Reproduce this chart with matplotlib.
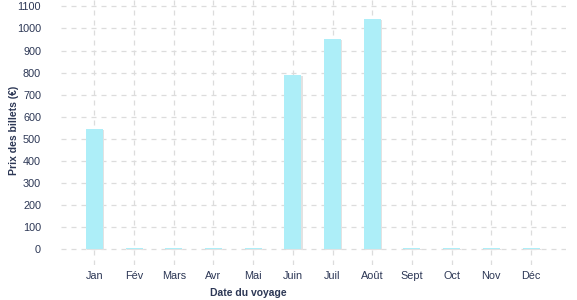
import matplotlib
matplotlib.use("Agg")
import matplotlib.pyplot as plt
import numpy as np

months = ["Jan", "Fév", "Mars", "Avr", "Mai", "Juin", "Juil", "Août", "Sept", "Oct", "Nov", "Déc"]
prices = [545, 4, 4, 4, 4, 790, 950, 1045, 4, 4, 4, 4]
yticks = [0, 100, 200, 300, 400, 500, 600, 700, 800, 900, 1000, 1100]

text_color = "#2c3755"
bar_color = "#adeef8"
grid_color = "#dcdcdc"

plt.rcParams['font.family'] = ['Liberation Sans', 'DejaVu Sans']

W, H = 577, 300
fig = plt.figure(figsize=(W / 100, H / 100), dpi=100)
ax = fig.add_axes([61 / W, 1 - 265 / H, (566 - 61) / W, 265 / H])

x = np.arange(len(months))
# shadow
ax.bar(x + 0.03, prices, width=0.43, color="#e2e2e2", zorder=2,
       transform=ax.transData + matplotlib.transforms.ScaledTranslation(0, -1 / 100, fig.dpi_scale_trans))
ax.bar(x, prices, width=0.43, color=bar_color, zorder=3)

ax.set_xlim(-0.84, 11.88)
ax.set_ylim(-72, 1129)
ax.set_yticks(yticks)
ax.set_xticks(x)
ax.set_xticklabels(months)

ax.grid(True, color=grid_color, linestyle=(0, (4, 4)), linewidth=0.9, zorder=0)
ax.set_axisbelow(True)
for s in ax.spines.values():
    s.set_visible(False)
ax.tick_params(axis='both', length=0, colors=text_color, labelsize=7.8)
ax.tick_params(axis='y', pad=14.4)
ax.tick_params(axis='x', pad=4.0)

fig.text(248 / W, 1 - 293 / H, "Date du voyage", ha='center', va='center',
         fontsize=7.5, fontweight='bold', color=text_color)
fig.text(14 / W, 1 - 130 / H, "Prix des billets (€)", ha='center', va='center',
         rotation=90, fontsize=7.5, fontweight='bold', color=text_color)

fig.savefig("out.png", dpi=100)
